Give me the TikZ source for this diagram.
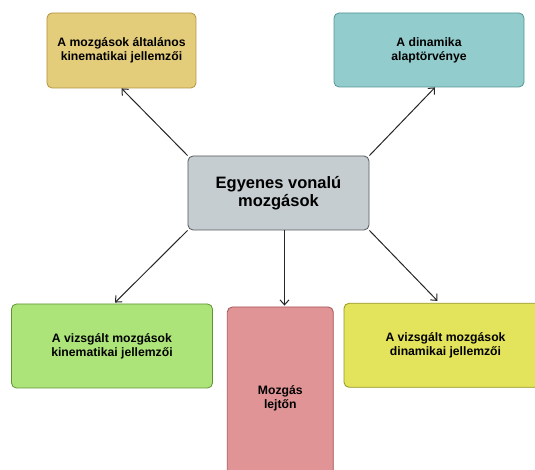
\documentclass[tikz,border=0pt]{standalone}
\usepackage{fontspec}
\setmainfont{Liberation Sans}
\usepackage{tikz}
\usetikzlibrary{shapes,arrows.meta,positioning}

\definecolor{mainfill}{RGB}{197,205,208}
\definecolor{maindraw}{RGB}{85,88,90}
\definecolor{altfill}{RGB}{227,204,122}
\definecolor{altdraw}{RGB}{180,148,62}
\definecolor{dinfill}{RGB}{147,204,204}
\definecolor{dindraw}{RGB}{84,150,150}
\definecolor{kinfill}{RGB}{172,228,122}
\definecolor{kindraw}{RGB}{92,150,50}
\definecolor{lejtfill}{RGB}{224,148,150}
\definecolor{lejtdraw}{RGB}{168,84,86}
\definecolor{dynfill}{RGB}{227,227,92}
\definecolor{dyndraw}{RGB}{150,150,32}

\begin{document}
\begin{tikzpicture}[on grid,auto,
    >={Straight Barb[length=5pt,width=9pt]},
    topic/.style={rectangle,rounded corners=5pt,draw,line width=0.8pt,inner sep=0pt,
      align=center,font=\fontsize{12.2}{14}\selectfont\bfseries},
    link/.style={->,line width=1pt,black!85}]

      \useasboundingbox (-278.5pt,-277pt) rectangle (256.5pt,193pt);
      \clip (-278.5pt,-277pt) rectangle (256.5pt,193pt);

      \node[topic,fill=mainfill,draw=maindraw,minimum width=181pt,minimum height=74pt,
        font=\fontsize{16.5}{17.6}\selectfont\bfseries] (main) at (0,0) {Egyenes vonalú\\mozgások};
      \node[topic,fill=altfill,draw=altdraw,minimum width=149pt,minimum height=75pt]
        (alt) [above left= 142.5pt and 157pt of main] {A mozgások általános\\kinematikai jellemzői};
      \node[topic,fill=dinfill,draw=dindraw,minimum width=190pt,minimum height=74pt]
        (din) [above right= 143pt and 150.5pt of main] {A dinamika\\alaptörvénye};
      \node[topic,fill=kinfill,draw=kindraw,minimum width=201pt,minimum height=84pt]
        (kin) [below left= 153pt and 166.5pt of main] {A vizsgált mozgások\\kinematikai jellemzői};
      \node[topic,fill=lejtfill,draw=lejtdraw,minimum width=106pt,minimum height=182pt]
        (lejt) [below right= 205pt and 1.8pt of main] {Mozgás\\lejtőn};
      \node[topic,fill=dynfill,draw=dyndraw,minimum width=203pt,minimum height=84pt]
        (dyn) [below right= 152.3pt and 167pt of main] {A vizsgált mozgások\\dinamikai jellemzői};

      \path[link] (main.north west) edge (alt.south);
      \path[link] (main.north east) edge ([xshift=6pt]din.south);
      \path[link] (main.south west) edge ([xshift=3pt,yshift=1pt]kin.north);
      \path[link] ([xshift=6pt]main.south) edge ([xshift=4.2pt,yshift=1pt]lejt.north);
      \path[link] (main.south east) edge ([xshift=-8pt,yshift=2pt]dyn.north);
    \end{tikzpicture}
\end{document}
